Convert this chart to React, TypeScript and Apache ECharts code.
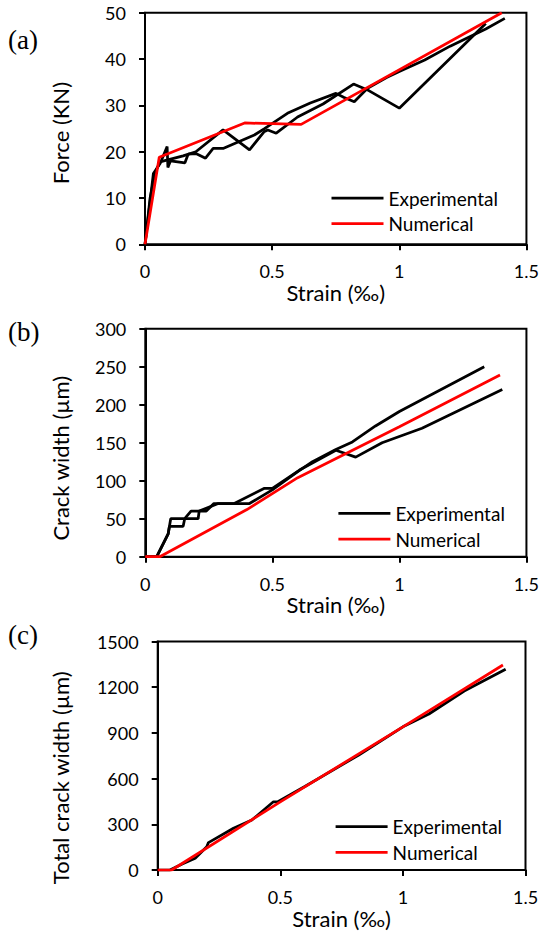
import React, { useEffect, useRef } from "react";
import * as echarts from "echarts";

// ---------- Data (strain in ‰) ----------
// (a) Force (KN)
const forceExp1: number[][] = [
  [0, 0], [0.033, 15.3], [0.06, 17.5], [0.087, 21.1], [0.09, 16.6], [0.1, 18],
  [0.157, 17.6], [0.17, 19.5], [0.2, 19.6], [0.238, 18.6], [0.268, 20.7], [0.307, 20.7],
  [0.43, 23.6], [0.47, 25.0], [0.56, 28.3], [0.65, 30.5], [0.751, 32.6], [0.783, 31.7],
  [0.823, 30.8], [0.875, 33.7], [0.95, 36.0], [1.0, 37.3], [1.1, 39.8], [1.2, 42.8],
  [1.34, 46.5], [1.415, 48.8],
];
const forceExp2: number[][] = [
  [0, 0], [0.02, 10], [0.04, 15.5], [0.059, 17.8], [0.15, 19.1], [0.2, 20.0],
  [0.307, 24.7], [0.411, 20.4], [0.468, 24.3], [0.483, 24.7], [0.516, 24.0],
  [0.6, 27.5], [0.7, 30.3], [0.82, 34.6], [0.88, 33.2], [0.94, 31.3], [1.0, 29.4],
  [1.34, 47.7],
];
const forceNum: number[][] = [
  [0, 0], [0.056, 18.8], [0.392, 26.2], [0.614, 25.9], [1.403, 50],
];

// (b) Crack width (µm)
const crackExp1: number[][] = [
  [0, 0], [0.045, 0], [0.09, 30], [0.1, 50], [0.155, 50], [0.18, 60], [0.24, 60],
  [0.27, 70], [0.41, 70], [0.5, 88], [0.6, 112], [0.658, 125], [0.75, 141],
  [0.815, 151], [0.906, 172], [1.0, 191], [1.334, 250],
];
const crackExp2: number[][] = [
  [0, 0], [0.045, 0], [0.09, 30], [0.095, 40], [0.149, 40], [0.155, 50], [0.208, 50],
  [0.212, 60], [0.287, 70], [0.35, 70], [0.469, 90], [0.5, 90], [0.607, 114],
  [0.75, 140], [0.828, 131], [0.932, 150], [1.089, 169], [1.405, 220],
];
const crackNum: number[][] = [
  [0, 0], [0.057, 0], [0.4, 62], [0.6, 104], [1.0, 171], [1.396, 239],
];

// (c) Total crack width (µm)
const totalExp: number[][] = [
  [0, 0], [0.05, 0], [0.1, 40], [0.153, 77], [0.2, 153], [0.207, 180], [0.309, 274],
  [0.384, 328], [0.472, 448], [0.49, 448], [0.6, 548], [0.82, 755], [1.0, 940],
  [1.106, 1024], [1.25, 1175], [1.419, 1318],
];
const totalNum: number[][] = [
  [0, 0], [0.057, 0], [0.5, 447], [1.0, 940], [1.408, 1346],
];

const xTicks = { min: 0, max: 1.5, interval: 0.5 };
const yForce = { min: 0, max: 50, interval: 10 };
const yCrack = { min: 0, max: 300, interval: 50 };
const yTotal = { min: 0, max: 1500, interval: 300 };

const panelLabels = ["(a)", "(b)", "(c)"];
const yTitles = ["Force (KN)", "Crack width (µm)", "Total crack width (µm)"];
const xTitle = "Strain (‰)";
const EXP = "Experimental";
const NUM = "Numerical";

const FONT = "Lato";
const LW = 2.75;

export default function App() {
  const ref = useRef<HTMLDivElement>(null);

  useEffect(() => {
    if (!ref.current) return;
    const chart = echarts.init(ref.current, undefined, { renderer: "svg" });

    const grids = [
      { left: 145, top: 12.8, width: 383, height: 231.5 },
      { left: 145.3, top: 328.7, width: 382.7, height: 228 },
      { left: 157.7, top: 641.5, width: 367.8, height: 228.5 },
    ];
    const yRanges = [yForce, yCrack, yTotal];
    const yNameGaps = [73.5, 73.5, 86];
    const yNamePad = [9, 31, 44];
    const legendPos = [
      { left: 331.5, top: 188 },
      { left: 338.4, top: 503.3 },
      { left: 335.6, top: 816.7 },
    ];
    const labelY = [40, 332, 635];

    const axisLine = { show: true, onZero: false, lineStyle: { color: "#000", width: 2 } };
    const axisTick = { show: true, length: 6, inside: false, lineStyle: { color: "#000", width: 2 } };

    const xAxis = grids.map((_, i) => ({
      type: "value",
      gridIndex: i,
      ...xTicks,
      name: xTitle,
      nameLocation: "middle",
      nameGap: 37,
      nameTextStyle: { fontFamily: FONT, fontSize: 22, color: "#000" },
      axisLine,
      axisTick,
      axisLabel: {
        margin: 18,
        fontFamily: FONT,
        fontSize: 18,
        color: "#000",
        formatter: (v: number) => String(v),
      },
      splitLine: { show: false },
    }));

    const yAxis = grids.map((_, i) => ({
      type: "value",
      gridIndex: i,
      ...yRanges[i],
      name: yTitles[i],
      nameLocation: "middle",
      nameGap: yNameGaps[i],
      nameTextStyle: {
        fontFamily: FONT,
        fontSize: 22,
        color: "#000",
        padding: [0, yNamePad[i], 0, 0],
      },
      axisLine,
      axisTick,
      axisLabel: {
        margin: 19,
        fontFamily: FONT,
        fontSize: 18,
        color: "#000",
        formatter: (v: number) => String(v),
      },
      splitLine: { show: false },
    }));

    const mk = (name: string, data: number[][], idx: number, color: string) => ({
      type: "line",
      name,
      xAxisIndex: idx,
      yAxisIndex: idx,
      data,
      symbol: "none",
      showSymbol: false,
      smooth: false,
      lineStyle: { color, width: LW },
      itemStyle: { color },
    });

    const series = [
      mk(EXP, forceExp1, 0, "#000"),
      mk(EXP, forceExp2, 0, "#000"),
      mk(NUM, forceNum, 0, "#ff0000"),
      mk(EXP, crackExp1, 1, "#000"),
      mk(EXP, crackExp2, 1, "#000"),
      mk(NUM, crackNum, 1, "#ff0000"),
      mk(EXP, totalExp, 2, "#000"),
      mk(NUM, totalNum, 2, "#ff0000"),
    ];

    const legend = legendPos.map((p) => ({
      left: p.left,
      top: p.top,
      orient: "vertical",
      padding: 0,
      icon: "rect",
      itemWidth: 52,
      itemHeight: LW,
      itemGap: 5.7,
      data: [EXP, NUM],
      selectedMode: false,
      textStyle: { fontFamily: FONT, fontSize: 19, lineHeight: 20, color: "#000" },
    }));

    const graphic = panelLabels.map((t, i) => ({
      type: "text",
      left: 8,
      top: labelY[i] - 14,
      style: {
        text: t,
        fontFamily: "Liberation Serif",
        fontSize: 27,
        fill: "#000",
      },
    }));

    chart.setOption({
      animation: false,
      backgroundColor: "#fff",
      grid: grids.map((g) => ({
        ...g,
        show: true,
        borderColor: "#000",
        borderWidth: 2,
        backgroundColor: "transparent",
        containLabel: false,
      })),
      xAxis,
      yAxis,
      legend,
      series,
      graphic,
    });

    return () => chart.dispose();
  }, []);

  return (
    <div
      ref={ref}
      style={{ position: "absolute", left: 0, top: 0, width: 542, height: 935, background: "#fff" }}
    />
  );
}
